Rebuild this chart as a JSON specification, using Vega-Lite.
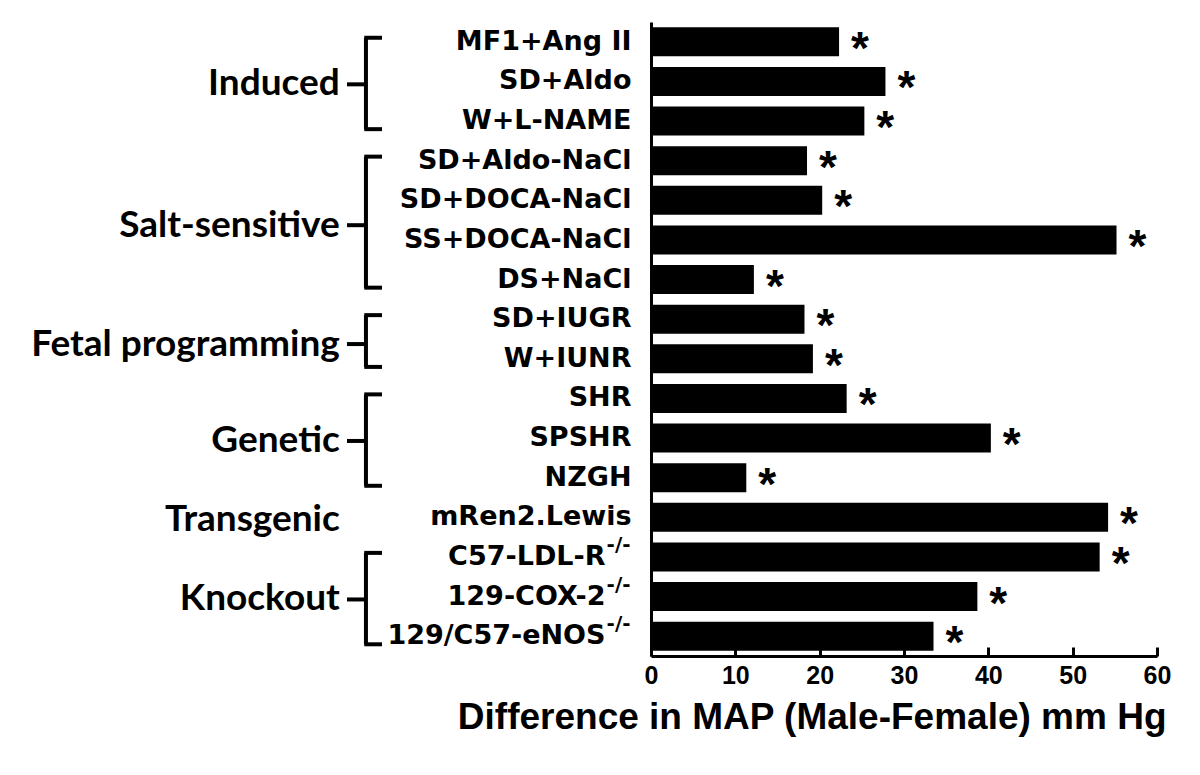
{
  "$schema": "https://vega.github.io/schema/vega-lite/v6.json",
  "autosize": "none",
  "width": 506,
  "height": 634,
  "padding": {"left": 651, "top": 22, "right": 43, "bottom": 119},
  "background": "white",
  "config": {"view": {"stroke": null}},
  "datasets": {
    "bars": [
      {"strain": "MF1+Ang II", "value": 22.3},
      {"strain": "SD+Aldo", "value": 27.8},
      {"strain": "W+L-NAME", "value": 25.3},
      {"strain": "SD+Aldo-NaCl", "value": 18.5},
      {"strain": "SD+DOCA-NaCl", "value": 20.3},
      {"strain": "SS+DOCA-NaCl", "value": 55.2},
      {"strain": "DS+NaCl", "value": 12.2},
      {"strain": "SD+IUGR", "value": 18.2},
      {"strain": "W+IUNR", "value": 19.2},
      {"strain": "SHR", "value": 23.2},
      {"strain": "SPSHR", "value": 40.3},
      {"strain": "NZGH", "value": 11.3},
      {"strain": "mRen2.Lewis", "value": 54.2},
      {"strain": "C57-LDL-R-/-", "value": 53.2},
      {"strain": "129-COX-2-/-", "value": 38.7},
      {"strain": "129/C57-eNOS-/-", "value": 33.5}
    ],
    "groups": [
      {"group": "Induced", "first": "MF1+Ang II", "last": "W+L-NAME", "mid": "SD+Aldo", "even": false, "brace": true},
      {"group": "Salt-sensitive", "first": "SD+Aldo-NaCl", "last": "DS+NaCl", "mid": "SD+DOCA-NaCl", "even": true, "brace": true},
      {"group": "Fetal programming", "first": "SD+IUGR", "last": "W+IUNR", "mid": "SD+IUGR", "even": true, "brace": true},
      {"group": "Genetic", "first": "SHR", "last": "NZGH", "mid": "SPSHR", "even": false, "brace": true},
      {"group": "Transgenic", "first": "mRen2.Lewis", "last": "mRen2.Lewis", "mid": "mRen2.Lewis", "even": false, "brace": false},
      {"group": "Knockout", "first": "C57-LDL-R-/-", "last": "129/C57-eNOS-/-", "mid": "129-COX-2-/-", "even": false, "brace": true}
    ]
  },
  "resolve": {"axis": {"y": "independent", "x": "independent"}},
  "layer": [
    {
      "data": {"name": "bars"},
      "mark": {"type": "bar", "color": "black"},
      "encoding": {
        "y": {
          "field": "strain", "type": "nominal", "sort": null,
          "scale": {"domain": ["MF1+Ang II","SD+Aldo","W+L-NAME","SD+Aldo-NaCl","SD+DOCA-NaCl","SS+DOCA-NaCl","DS+NaCl","SD+IUGR","W+IUNR","SHR","SPSHR","NZGH","mRen2.Lewis","C57-LDL-R-/-","129-COX-2-/-","129/C57-eNOS-/-"], "paddingInner": 0.27, "paddingOuter": 0.135},
          "axis": {
            "orient": "left", "title": null, "ticks": false, "domain": true, "domainColor": "black", "domainWidth": 3,
            "labelFont": "DejaVu Sans", "labelFontWeight": "bold", "labelFontSize": 27, "labelColor": "black",
            "labelPadding": {"condition": {"test": "indexof(datum.value,'-/-')>=0", "value": 46}, "value": 20},
            "labelLimit": 500,
            "labelExpr": "indexof(datum.value,'-/-')>=0 ? slice(datum.value,0,-3) : datum.value"
          }
        },
        "x": {
          "field": "value", "type": "quantitative",
          "scale": {"domain": [0, 60], "nice": false, "zero": true},
          "axis": {
            "orient": "bottom", "values": [0, 10, 20, 30, 40, 50, 60], "grid": false,
            "domainColor": "black", "domainWidth": 3,
            "tickColor": "black", "tickWidth": 3, "tickSize": -9,
            "labelFont": "Liberation Sans", "labelFontWeight": "bold", "labelFontSize": 25, "labelColor": "black",
            "labelPadding": 16, "labelFlush": false,
            "title": "Difference in MAP (Male-Female) mm Hg",
            "titleFont": "Liberation Sans", "titleFontWeight": "bold", "titleFontSize": 37, "titleColor": "black",
            "titleAlign": "right", "titleX": 515, "titleY": 61, "titleBaseline": "middle"
          }
        }
      }
    },
    {
      "data": {"name": "bars"},
      "mark": {"type": "text", "text": "*", "font": "Liberation Sans", "fontWeight": "bold", "fontSize": 46, "align": "left", "baseline": "alphabetic", "dx": 12, "dy": 22, "color": "black"},
      "encoding": {
        "y": {
          "field": "strain", "type": "nominal", "sort": null,
          "scale": {"domain": ["MF1+Ang II","SD+Aldo","W+L-NAME","SD+Aldo-NaCl","SD+DOCA-NaCl","SS+DOCA-NaCl","DS+NaCl","SD+IUGR","W+IUNR","SHR","SPSHR","NZGH","mRen2.Lewis","C57-LDL-R-/-","129-COX-2-/-","129/C57-eNOS-/-"], "paddingInner": 0.27, "paddingOuter": 0.135},
          "axis": {
            "orient": "left", "title": null, "ticks": false, "domain": false,
            "labelFont": "DejaVu Sans", "labelFontWeight": "bold", "labelFontSize": 20, "labelColor": "black",
            "labelPadding": 21, "labelOffset": -12, "labelLimit": 200,
            "labelExpr": "indexof(datum.value,'-/-')>=0 ? '-/-' : ''"
          }
        },
        "x": {"field": "value", "type": "quantitative", "axis": null, "scale": {"domain": [0, 60], "nice": false}}
      }
    },
    {
      "data": {"name": "groups"},
      "transform": [{"filter": "datum.brace"}],
      "mark": {"type": "rule", "color": "black", "strokeWidth": 4},
      "encoding": {
        "y": {"field": "first", "type": "nominal", "bandPosition": 0.36, "sort": null, "axis": null,
          "scale": {"domain": ["MF1+Ang II","SD+Aldo","W+L-NAME","SD+Aldo-NaCl","SD+DOCA-NaCl","SS+DOCA-NaCl","DS+NaCl","SD+IUGR","W+IUNR","SHR","SPSHR","NZGH","mRen2.Lewis","C57-LDL-R-/-","129-COX-2-/-","129/C57-eNOS-/-"], "paddingInner": 0.27, "paddingOuter": 0.135}},
        "y2": {"field": "last", "bandPosition": 0.78},
        "x": {"datum": -33.8, "type": "quantitative", "axis": null, "scale": {"domain": [0, 60], "nice": false}}
      }
    },
    {
      "data": {"name": "groups"},
      "transform": [{"filter": "datum.brace"}],
      "mark": {"type": "rule", "color": "black", "strokeWidth": 4},
      "encoding": {
        "y": {"field": "first", "type": "nominal", "bandPosition": 0.36, "sort": null, "axis": null,
          "scale": {"domain": ["MF1+Ang II","SD+Aldo","W+L-NAME","SD+Aldo-NaCl","SD+DOCA-NaCl","SS+DOCA-NaCl","DS+NaCl","SD+IUGR","W+IUNR","SHR","SPSHR","NZGH","mRen2.Lewis","C57-LDL-R-/-","129-COX-2-/-","129/C57-eNOS-/-"], "paddingInner": 0.27, "paddingOuter": 0.135}},
        "x": {"datum": -34.0, "type": "quantitative", "axis": null, "scale": {"domain": [0, 60], "nice": false}},
        "x2": {"datum": -31.9}
      }
    },
    {
      "data": {"name": "groups"},
      "transform": [{"filter": "datum.brace"}],
      "mark": {"type": "rule", "color": "black", "strokeWidth": 4},
      "encoding": {
        "y": {"field": "last", "type": "nominal", "bandPosition": 0.78, "sort": null, "axis": null,
          "scale": {"domain": ["MF1+Ang II","SD+Aldo","W+L-NAME","SD+Aldo-NaCl","SD+DOCA-NaCl","SS+DOCA-NaCl","DS+NaCl","SD+IUGR","W+IUNR","SHR","SPSHR","NZGH","mRen2.Lewis","C57-LDL-R-/-","129-COX-2-/-","129/C57-eNOS-/-"], "paddingInner": 0.27, "paddingOuter": 0.135}},
        "x": {"datum": -34.0, "type": "quantitative", "axis": null, "scale": {"domain": [0, 60], "nice": false}},
        "x2": {"datum": -31.9}
      }
    },
    {
      "data": {"name": "groups"},
      "transform": [{"filter": "datum.brace && !datum.even"}],
      "mark": {"type": "rule", "color": "black", "strokeWidth": 4},
      "encoding": {
        "y": {"field": "mid", "type": "nominal", "bandPosition": 0.6, "sort": null, "axis": null,
          "scale": {"domain": ["MF1+Ang II","SD+Aldo","W+L-NAME","SD+Aldo-NaCl","SD+DOCA-NaCl","SS+DOCA-NaCl","DS+NaCl","SD+IUGR","W+IUNR","SHR","SPSHR","NZGH","mRen2.Lewis","C57-LDL-R-/-","129-COX-2-/-","129/C57-eNOS-/-"], "paddingInner": 0.27, "paddingOuter": 0.135}},
        "x": {"datum": -36.05, "type": "quantitative", "axis": null, "scale": {"domain": [0, 60], "nice": false}},
        "x2": {"datum": -33.8}
      }
    },
    {
      "data": {"name": "groups"},
      "transform": [{"filter": "datum.brace && datum.even"}],
      "mark": {"type": "rule", "color": "black", "strokeWidth": 4},
      "encoding": {
        "y": {"field": "mid", "type": "nominal", "bandPosition": 1.36, "sort": null, "axis": null,
          "scale": {"domain": ["MF1+Ang II","SD+Aldo","W+L-NAME","SD+Aldo-NaCl","SD+DOCA-NaCl","SS+DOCA-NaCl","DS+NaCl","SD+IUGR","W+IUNR","SHR","SPSHR","NZGH","mRen2.Lewis","C57-LDL-R-/-","129-COX-2-/-","129/C57-eNOS-/-"], "paddingInner": 0.27, "paddingOuter": 0.135}},
        "x": {"datum": -36.05, "type": "quantitative", "axis": null, "scale": {"domain": [0, 60], "nice": false}},
        "x2": {"datum": -33.8}
      }
    },
    {
      "data": {"name": "groups"},
      "transform": [{"filter": "!datum.even"}],
      "mark": {"type": "text", "font": "Lato", "fontWeight": "bold", "fontSize": 37, "align": "right", "baseline": "middle", "dy": 2, "color": "black"},
      "encoding": {
        "y": {"field": "mid", "type": "nominal", "bandPosition": 0.52, "sort": null, "axis": null,
          "scale": {"domain": ["MF1+Ang II","SD+Aldo","W+L-NAME","SD+Aldo-NaCl","SD+DOCA-NaCl","SS+DOCA-NaCl","DS+NaCl","SD+IUGR","W+IUNR","SHR","SPSHR","NZGH","mRen2.Lewis","C57-LDL-R-/-","129-COX-2-/-","129/C57-eNOS-/-"], "paddingInner": 0.27, "paddingOuter": 0.135}},
        "x": {"datum": -36.9, "type": "quantitative", "axis": null, "scale": {"domain": [0, 60], "nice": false}},
        "text": {"field": "group"}
      }
    },
    {
      "data": {"name": "groups"},
      "transform": [{"filter": "datum.even"}],
      "mark": {"type": "text", "font": "Lato", "fontWeight": "bold", "fontSize": 37, "align": "right", "baseline": "middle", "dy": 2, "color": "black"},
      "encoding": {
        "y": {"field": "mid", "type": "nominal", "bandPosition": 1.32, "sort": null, "axis": null,
          "scale": {"domain": ["MF1+Ang II","SD+Aldo","W+L-NAME","SD+Aldo-NaCl","SD+DOCA-NaCl","SS+DOCA-NaCl","DS+NaCl","SD+IUGR","W+IUNR","SHR","SPSHR","NZGH","mRen2.Lewis","C57-LDL-R-/-","129-COX-2-/-","129/C57-eNOS-/-"], "paddingInner": 0.27, "paddingOuter": 0.135}},
        "x": {"datum": -36.9, "type": "quantitative", "axis": null, "scale": {"domain": [0, 60], "nice": false}},
        "text": {"field": "group"}
      }
    }
  ]
}
